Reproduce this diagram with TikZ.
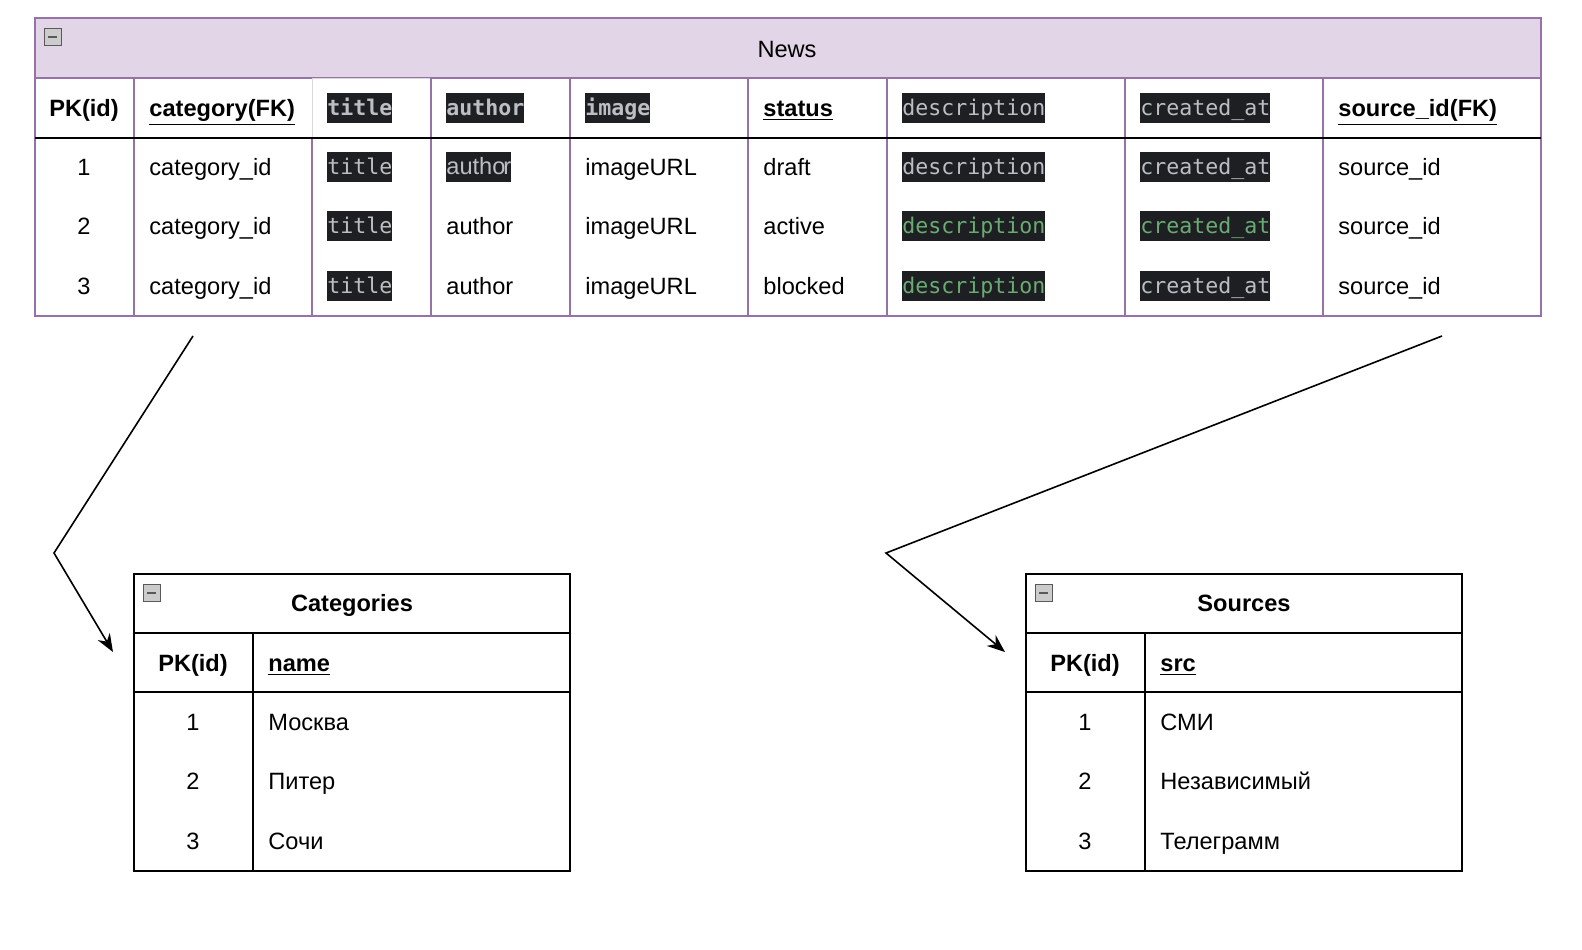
\documentclass[tikz,border=0pt]{standalone}
\usepackage{fontspec}
\setmainfont{Liberation Sans}
\newfontfamily\codefont{DejaVu Sans Mono}
\usetikzlibrary{arrows.meta}
\definecolor{newsfill}{HTML}{E1D5E7}
\definecolor{newsline}{HTML}{9673A6}
\definecolor{codebg}{HTML}{1E1F22}
\definecolor{codegrey}{HTML}{BCBEC4}
\definecolor{codegreen}{HTML}{6AAB73}
\begin{document}
\begin{tikzpicture}[x=0.5pt, y=-0.5pt, every node/.style={inner sep=0pt, text height=8.7pt, text depth=0.25pt, font=\fontsize{11.8}{14}\selectfont},
    cell/.style={anchor=west}, hd/.style={font=\fontsize{11.8}{14}\selectfont\bfseries},
    code/.style={anchor=west, fill=codebg, text=codegrey, text height=8.2pt, text depth=0.3pt, minimum height=15pt, font=\codefont\fontsize{10.8}{13}\selectfont},
    codehd/.style={code, font=\codefont\fontsize{10.8}{13}\selectfont\bfseries},
    icon/.style={draw=gray!70!black, fill=gray!40, text height=0pt, text depth=0pt, minimum size=8.5pt, path picture={\draw[line width=1pt] ([xshift=2pt]path picture bounding box.west) -- ([xshift=-2pt]path picture bounding box.east);}},
    link/.style={line width=0.8pt, -{Stealth[length=9pt, width=7pt]}}]
        \useasboundingbox (0,0) rectangle (1582,949);

        % News
        \draw[newsline, fill=newsfill, line width=1pt] (35,18) rectangle (1541,78);
        \draw[newsline, line width=1pt] (35,78) rectangle (1541,316);
        \draw[newsline, line width=1pt] (134,78) -- (134,316);
        \draw[newsline, line width=1pt] (312,138) -- (312,316);
        \draw[newsline, line width=1pt] (431,138) -- (431,316);
        \draw[newsline, line width=1pt] (570,78) -- (570,316);
        \draw[newsline, line width=1pt] (748,78) -- (748,316);
        \draw[newsline, line width=1pt] (887,78) -- (887,316);
        \draw[newsline, line width=1pt] (1125,78) -- (1125,316);
        \draw[newsline, line width=1pt] (1323,78) -- (1323,316);
        \draw[gray!30, fill=white] (312,78) rectangle (431,138);
        \draw[newsline, line width=1pt] (431,78) -- (570,78);
        \draw[newsline, line width=1pt] (431,78) -- (431,138);
        \draw[line width=1pt] (35,138) -- (1541,138);
        \node[icon] (news-icon) at (52.5,36.5) {};
        \node (news) at (787,49) {News};

        \node[hd] (n-pk) at (84,108) {PK(id)};
        \node[hd, cell] (n-cat) at (149,108) {\underline{category(FK)}};
        \node[codehd] (n-title) at (327,108) {title};
        \node[codehd] (n-author) at (446,108) {author};
        \node[codehd] (n-image) at (585,108) {image};
        \node[hd, cell] (n-status) at (763,108) {\underline{status}};
        \node[code] (n-desc) at (902,108) {description};
        \node[code] (n-created) at (1140,108) {created\_at};
        \node[hd, cell] (n-source) at (1338,108) {\underline{source\_id(FK)}};

        \node (r1-pk) at (84,167) {1};
        \node[cell] (r1-cat) at (149,167) {category\_id};
        \node[code] (r1-title) at (327,167) {title};
        \node[code, font=\fontsize{11.8}{14}\selectfont] (r1-author) at (446,167) {autho\kern-1pt r};
        \node[cell] (r1-image) at (585,167) {imageURL};
        \node[cell] (r1-status) at (763,167) {draft};
        \node[code] (r1-desc) at (902,167) {description};
        \node[code] (r1-created) at (1140,167) {created\_at};
        \node[cell] (r1-source) at (1338,167) {source\_id};

        \node (r2-pk) at (84,226) {2};
        \node[cell] (r2-cat) at (149,226) {category\_id};
        \node[code] (r2-title) at (327,226) {title};
        \node[cell] (r2-author) at (446,226) {author};
        \node[cell] (r2-image) at (585,226) {imageURL};
        \node[cell] (r2-status) at (763,226) {active};
        \node[code, text=codegreen] (r2-desc) at (902,226) {description};
        \node[code, text=codegreen] (r2-created) at (1140,226) {created\_at};
        \node[cell] (r2-source) at (1338,226) {source\_id};

        \node (r3-pk) at (84,286) {3};
        \node[cell] (r3-cat) at (149,286) {category\_id};
        \node[code] (r3-title) at (327,286) {title};
        \node[cell] (r3-author) at (446,286) {author};
        \node[cell] (r3-image) at (585,286) {imageURL};
        \node[cell] (r3-status) at (763,286) {blocked};
        \node[code, text=codegreen] (r3-desc) at (902,286) {description};
        \node[code] (r3-created) at (1140,286) {created\_at};
        \node[cell] (r3-source) at (1338,286) {source\_id};

        % Categories
        \draw[line width=1pt] (134,574) rectangle (570,871);
        \draw[line width=1pt] (134,633) -- (570,633);
        \draw[line width=1pt] (134,692) -- (570,692);
        \draw[line width=1pt] (253,633) -- (253,871);
        \node[icon] (cat-icon) at (151.5,592.5) {};
        \node[hd] (categories) at (352,603) {Categories};
        \node[hd] (c-pk) at (193,663) {PK(id)};
        \node[hd, cell] (c-name) at (268,663) {\underline{name}};
        \node (c1-pk) at (193,722) {1};
        \node[cell] (c1-name) at (268,722) {Москва};
        \node (c2-pk) at (193,781) {2};
        \node[cell] (c2-name) at (268,781) {Питер};
        \node (c3-pk) at (193,841) {3};
        \node[cell] (c3-name) at (268,841) {Сочи};

        % Sources
        \draw[line width=1pt] (1026,574) rectangle (1462,871);
        \draw[line width=1pt] (1026,633) -- (1462,633);
        \draw[line width=1pt] (1026,692) -- (1462,692);
        \draw[line width=1pt] (1145,633) -- (1145,871);
        \node[icon] (src-icon) at (1043.5,592.5) {};
        \node[hd] (sources) at (1244,603) {Sources};
        \node[hd] (s-pk) at (1085,663) {PK(id)};
        \node[hd, cell] (s-src) at (1160,663) {\underline{src}};
        \node (s1-pk) at (1085,722) {1};
        \node[cell] (s1-src) at (1160,722) {СМИ};
        \node (s2-pk) at (1085,781) {2};
        \node[cell] (s2-src) at (1160,781) {Независимый};
        \node (s3-pk) at (1085,841) {3};
        \node[cell] (s3-src) at (1160,841) {Телеграмм};

        % links
        \coordinate (cat-from) at (193,336);
        \coordinate (cat-bend) at (54,553);
        \coordinate (cat-to) at (113,652);
        \coordinate (src-from) at (1442,336);
        \coordinate (src-bend) at (886,553);
        \coordinate (src-to) at (1005,652);
        \draw[link] (cat-from) -- (cat-bend) -- (cat-to);
        \draw[link] (src-from) -- (src-bend) -- (src-to);
      \end{tikzpicture}
\end{document}
